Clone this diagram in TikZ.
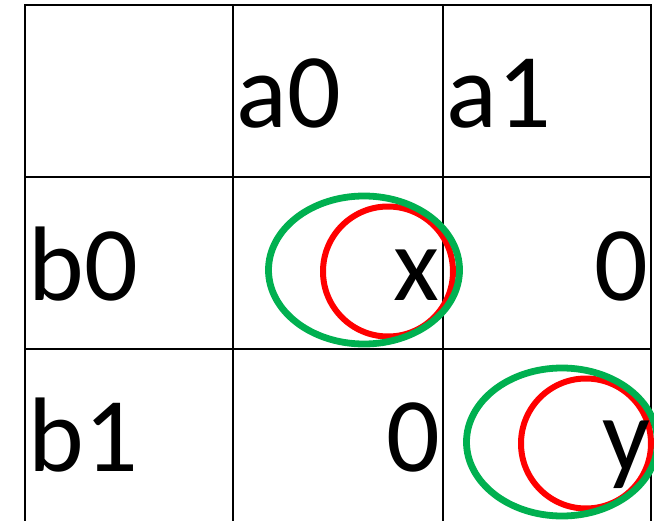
\documentclass[tikz,border=0pt]{standalone}
\usepackage{fontspec}
\setmainfont{Carlito}
\usetikzlibrary{positioning}
\definecolor{ringgreen}{RGB}{0,176,80}
\definecolor{ringred}{RGB}{255,0,0}

\begin{document}
\begin{tikzpicture}[x=0.5pt, y=-0.5pt, every node/.style={font=\fontsize{53}{60}\selectfont, inner sep=0pt},
  head/.style={anchor=base west}, val/.style={anchor=base east},
  gridline/.style={line width=1.2pt},
  greenring/.style={draw=ringgreen, line width=3.4pt},
  redring/.style={draw=ringred, line width=3pt}]
  \useasboundingbox (0,0) rectangle (654,520);
  \clip (0,0) rectangle (654,520);
  % grid
  \draw[gridline] (25,525) -- (25,5) -- (651,5) -- (651,525);
  \draw[gridline] (233,5) -- (233,525);
  \draw[gridline] (443,5) -- (443,525);
  \draw[gridline] (25,177) -- (651,177);
  \draw[gridline] (25,349) -- (651,349);
  % rings
  \draw[redring] (388,271.5) circle [radius=65];
  \draw[greenring] (364,270) ellipse [x radius=95.5, y radius=74];
  \draw[redring] (586,443.5) circle [radius=65];
  \draw[greenring] (562,442) ellipse [x radius=95.5, y radius=74];
  % labels
  \node[head] (a0) at (236,127) {a0};
  \node[head] (a1) at (446,127) {a1};
  \node[head] (b0) at (28,300) {b0};
  \node[head] (b1) at (28,471) {b1};
  \node[val] (x) at (440,300) {x};
  \node[val] (zeroA) at (649,300) {0};
  \node[val] (zeroB) at (441,471) {0};
  \node[val] (y) at (651,471) {y};
\end{tikzpicture}
\end{document}
